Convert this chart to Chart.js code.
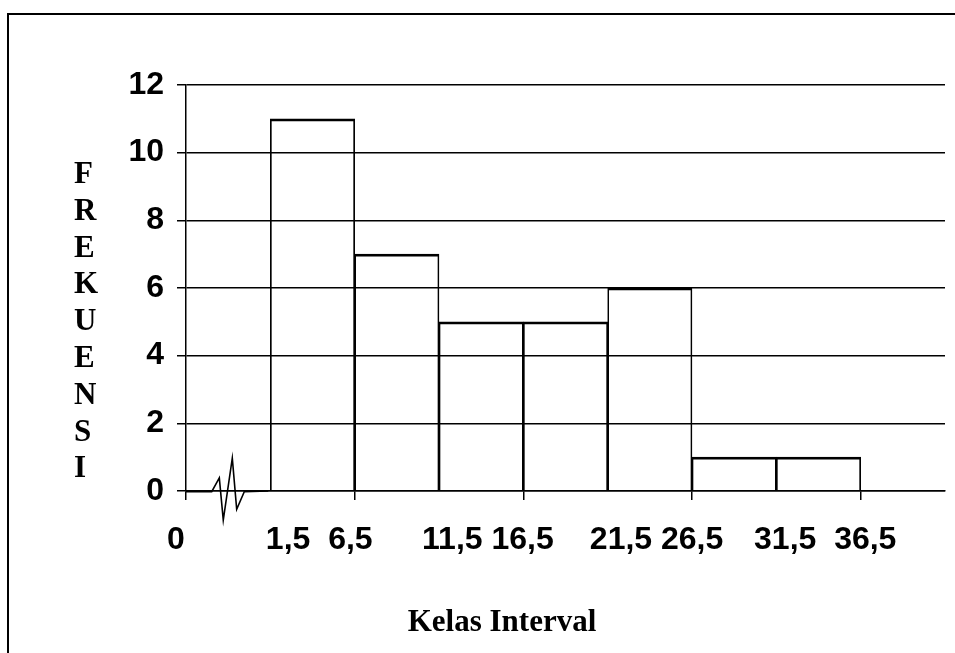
<!DOCTYPE html>
<html>
<head>
<meta charset="utf-8">
<title>Histogram Kelas Interval</title>
<script src="https://cdn.jsdelivr.net/npm/chart.js@4/dist/chart.umd.min.js"></script>
<style>
  html, body { margin: 0; padding: 0; background: #ffffff; overflow: hidden; }
  canvas { display: block; }
</style>
</head>
<body>
<canvas id="hist" width="955" height="653"></canvas>
<script>
// Class intervals (first slot holds the axis break, last slot is empty)
const classLabels = ['', '1,5 - 6,5', '6,5 - 11,5', '11,5 - 16,5', '16,5 - 21,5',
                     '21,5 - 26,5', '26,5 - 31,5', '31,5 - 36,5', ''];
// Frequency of each class
const frequencies = [null, 11, 7, 5, 5, 6, 1, 1, null];
// Text under the horizontal axis
const xTickLabels = ['0', '1,5  6,5', '11,5 16,5', '21,5 26,5', '31,5  36,5'];
// Axis-break zigzag drawn in the first (empty) slot
const breakX = [0, 0.305, 0.395, 0.442, 0.549, 0.601, 0.691, 0.976];
const breakY = [-0.02, -0.02, 0.39, -0.86, 0.97, -0.54, -0.02, 0];
// Titles
const yTitle = 'FREKUENSI';
const xTitle = 'Kelas Interval';

const INK = '#000000';
const numFont = { family: "'Liberation Sans', Arial, sans-serif", size: 32, weight: 'bold' };

const decorations = {
  id: 'decorations',
  beforeDraw(chart) {
    // outer frame: left and top edges (the others run past the canvas)
    const ctx = chart.ctx;
    ctx.save();
    ctx.strokeStyle = INK;
    ctx.lineWidth = 2;
    ctx.beginPath();
    ctx.moveTo(8, chart.height + 5);
    ctx.lineTo(8, 14);
    ctx.lineTo(chart.width + 5, 14);
    ctx.stroke();
    ctx.restore();
  },
  afterDraw(chart) {
    const ctx = chart.ctx;
    ctx.save();
    ctx.fillStyle = INK;
    ctx.font = "bold 31px 'Liberation Serif', 'Times New Roman', serif";
    ctx.textAlign = 'left';
    ctx.textBaseline = 'alphabetic';
    yTitle.split('').forEach((ch, i) => ctx.fillText(ch, 74, 183 + i * 36.8));
    ctx.textAlign = 'center';
    ctx.fillText(xTitle, 502, 631);
    ctx.restore();
  }
};

new Chart(document.getElementById('hist'), {
  type: 'bar',
  data: {
    labels: classLabels,
    datasets: [
      {
        type: 'line',
        data: breakX.map((x, i) => ({ x, y: breakY[i] })),
        xAxisID: 'xl',
        yAxisID: 'y',
        borderColor: INK,
        borderWidth: 1.6,
        pointRadius: 0,
        tension: 0,
        fill: false,
        clip: false,
        order: 0
      },
      {
        type: 'bar',
        data: frequencies,
        xAxisID: 'x',
        yAxisID: 'y',
        backgroundColor: 'rgba(0,0,0,0)',
        borderColor: INK,
        borderWidth: { top: 2, left: 1, right: 1, bottom: 0 },
        grouped: false,
        barPercentage: 1,
        categoryPercentage: 1,
        order: 1
      }
    ]
  },
  options: {
    responsive: false,
    animation: false,
    devicePixelRatio: 1,
    layout: { padding: { left: 0, top: 85, right: 10, bottom: 0 } },
    plugins: { legend: { display: false }, tooltip: { enabled: false } },
    scales: {
      y: {
        min: 0,
        max: 12,
        ticks: { stepSize: 2, color: INK, font: numFont, padding: 13 },
        grid: { color: INK, lineWidth: 1.5, tickLength: 9 },
        border: { display: true, color: INK, width: 1.5 },
        afterFit(scale) { scale.width = 186; }
      },
      x: {
        type: 'category',
        position: 'bottom',
        weight: 0,
        offset: true,
        ticks: { display: false },
        grid: {
          offset: true,
          drawOnChartArea: false,
          drawTicks: true,
          tickLength: 9,
          lineWidth: 1.5,
          color: (c) => (c.index % 2 === 0 ? INK : 'rgba(0,0,0,0)')
        },
        border: { display: true, color: INK, width: 1.5 },
        afterFit(scale) { scale.height = 9; }
      },
      xl: {
        type: 'linear',
        position: 'bottom',
        weight: 1,
        min: 0,
        max: 9,
        offset: false,
        bounds: 'data',
        grid: { display: false, drawTicks: false, offset: false },
        border: { display: false },
        ticks: {
          color: INK,
          font: numFont,
          padding: 21,
          autoSkip: false,
          maxRotation: 0,
          minRotation: 0,
          callback: (value, index) => xTickLabels[index]
        },
        afterBuildTicks(scale) {
          scale.ticks = xTickLabels.map((_, i) => ({ value: i === 0 ? -0.12 : 2 * i - 0.42 }));
        },
        afterFit(scale) { scale.height = 153; }
      }
    }
  },
  plugins: [decorations]
});
</script>
</body>
</html>
